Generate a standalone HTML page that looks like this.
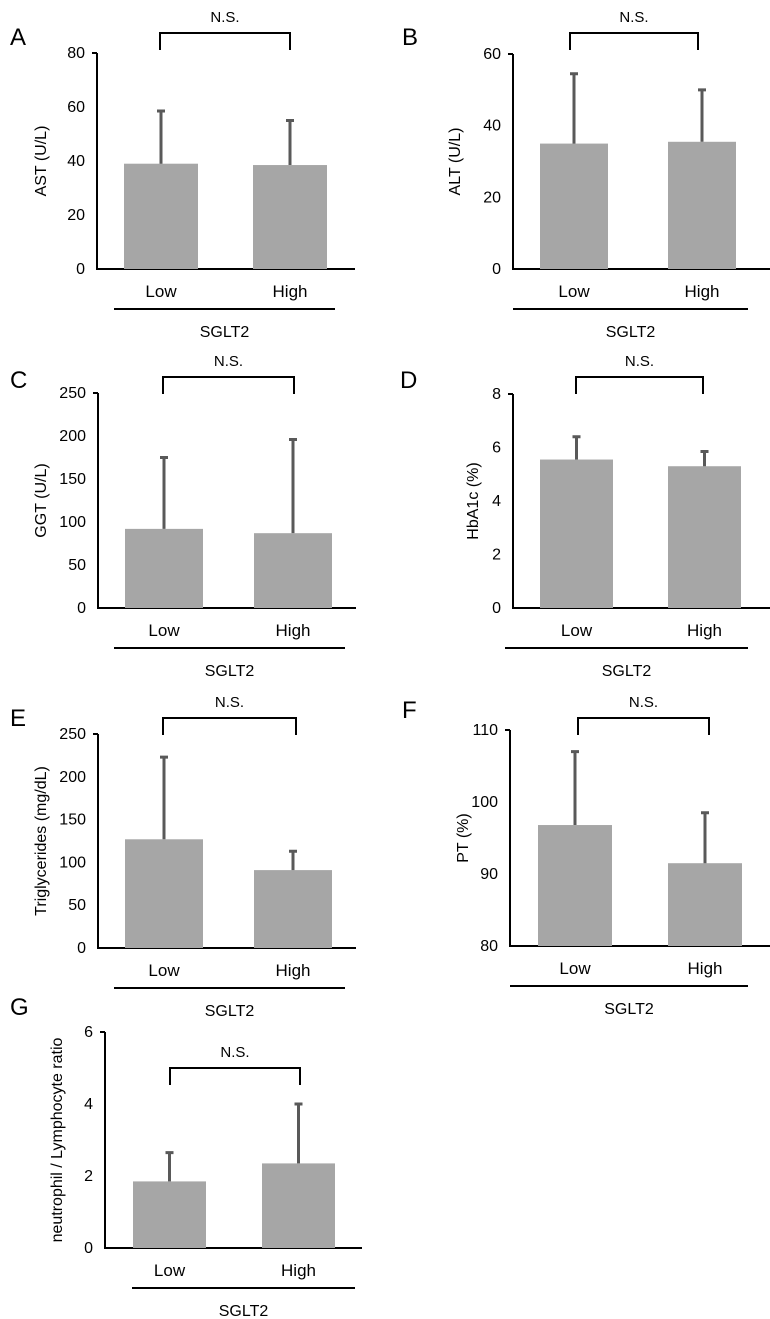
<!DOCTYPE html>
<html><head><meta charset="utf-8"><style>
html,body{margin:0;padding:0;background:#fff;}
svg{display:block;font-family:"Liberation Sans",sans-serif;}
</style></head><body>
<svg id="fig" width="770" height="1319" viewBox="0 0 770 1319"></svg>
<script>
const categories = ["Low","High"];
const panelLetters = ["A","B","C","D","E","F","G"];
const yTitles = ["AST (U/L)","ALT (U/L)","GGT (U/L)","HbA1c (%)","Triglycerides (mg/dL)","PT (%)","neutrophil / Lymphocyte ratio"];
const meansA=[39,38.5], errA=[58.5,55], ticksA=[0,20,40,60,80];
const meansB=[35,35.5], errB=[54.5,50], ticksB=[0,20,40,60];
const meansC=[92,87], errC=[175,196], ticksC=[0,50,100,150,200,250];
const meansD=[5.55,5.3], errD=[6.4,5.85], ticksD=[0,2,4,6,8];
const meansE=[127,91], errE=[223,113], ticksE=[0,50,100,150,200,250];
const meansF=[96.8,91.5], errF=[107,98.5], ticksF=[80,90,100,110];
const meansG=[1.85,2.35], errG=[2.65,4.0], ticksG=[0,2,4,6];
const groupLabel="SGLT2", sigLabel="N.S.";

const L=[
 {ax:97,top:53,bot:269,xe:355,b:[124,253],bw:74,br:33,bx:[160,290],lx:[114,335],ly:[10,45],ytx:46},
 {ax:513,top:54,bot:269,xe:770,b:[540,668],bw:68,br:33,bx:[570,698],lx:[513,748],ly:[402,45],ytx:460},
 {ax:98,top:393,bot:608,xe:356,b:[125,254],bw:78,br:377,bx:[163,294],lx:[114,345],ly:[10,388],ytx:46},
 {ax:513,top:394,bot:608,xe:770,b:[540,668],bw:73,br:377,bx:[576,703],lx:[505,748],ly:[400,388],ytx:478},
 {ax:98,top:734,bot:948,xe:356,b:[125,254],bw:78,br:718,bx:[163,296],lx:[114,345],ly:[10,726],ytx:46},
 {ax:510,top:730,bot:946,xe:770,b:[538,668],bw:74,br:718,bx:[578,709],lx:[510,748],ly:[402,718],ytx:468},
 {ax:105,top:1032,bot:1248,xe:362,b:[133,262],bw:73,br:1068,bx:[170,300],lx:[132,355],ly:[10,1015],ytx:62}
];
const means=[meansA,meansB,meansC,meansD,meansE,meansF,meansG];
const errs=[errA,errB,errC,errD,errE,errF,errG];
const ticks=[ticksA,ticksB,ticksC,ticksD,ticksE,ticksF,ticksG];
const NS="http://www.w3.org/2000/svg";
const svg=document.getElementById('fig');
function mk(tag,attrs,parent,text){const e=document.createElementNS(NS,tag);for(const k in attrs)e.setAttribute(k,attrs[k]);if(text!==undefined)e.textContent=text;parent.appendChild(e);return e;}
for(let p=0;p<7;p++){
 const g=mk('g',{},svg);
 
 
 const c=L[p], t=ticks[p], lo=t[0], hi=t[t.length-1];
 const y=v=>c.bot-(v-lo)/(hi-lo)*(c.bot-c.top);
 const lt=mk('text',{x:c.ly[0],y:c.ly[1],'font-size':24,fill:'#000'},g,panelLetters[p]);
 
 
 const ax=mk('path',{d:`M${c.ax},${c.top}V${c.bot}H${c.xe}`,stroke:'#000','stroke-width':2,fill:'none'},g);
 
 
 mk('line',{x1:c.ax-5,x2:c.ax,y1:c.top,y2:c.top,stroke:'#000','stroke-width':2},g);
 t.forEach(v=>{
  const tl=mk('text',{x:c.ax-12,y:y(v)+5,'font-size':16,'text-anchor':'end',fill:'#000'},g,String(v));
  
  
 });
 const cy=(c.top+c.bot)/2;
 const yt=mk('text',{x:c.ytx,y:cy,'font-size':16,'text-anchor':'middle',fill:'#000',transform:`rotate(-90 ${c.ytx} ${cy})`},g,yTitles[p]);
 
 
 for(let i=0;i<2;i++){
  const bx=c.b[i], cx=bx+c.bw/2;
  const r=mk('rect',{x:bx,y:y(means[p][i]),width:c.bw,height:c.bot-y(means[p][i]),fill:'#a6a6a6'},g);
  
  
  const e=mk('path',{d:`M${cx},${y(means[p][i])}V${y(errs[p][i])}M${cx-4},${y(errs[p][i])}H${cx+4}`,stroke:'#595959','stroke-width':3,fill:'none'},g);
  
  
  const xl=mk('text',{x:cx,y:c.bot+28,'font-size':17,'text-anchor':'middle',fill:'#000'},g,categories[i]);
  
  
 }
 const gl=mk('line',{x1:c.lx[0],x2:c.lx[1],y1:c.bot+40,y2:c.bot+40,stroke:'#000','stroke-width':2},g);
 
 
 const gt=mk('text',{x:(c.lx[0]+c.lx[1])/2,y:c.bot+68,'font-size':16,'text-anchor':'middle',fill:'#000'},g,groupLabel);
 
 
 const br=mk('path',{d:`M${c.bx[0]},${c.br+17}V${c.br}H${c.bx[1]}V${c.br+17}`,stroke:'#000','stroke-width':2,fill:'none'},g);
 
 
 const nt=mk('text',{x:(c.bx[0]+c.bx[1])/2,y:c.br-11,'font-size':15,'text-anchor':'middle',fill:'#000'},g,sigLabel);
 
 
}
</script>
</body></html>
